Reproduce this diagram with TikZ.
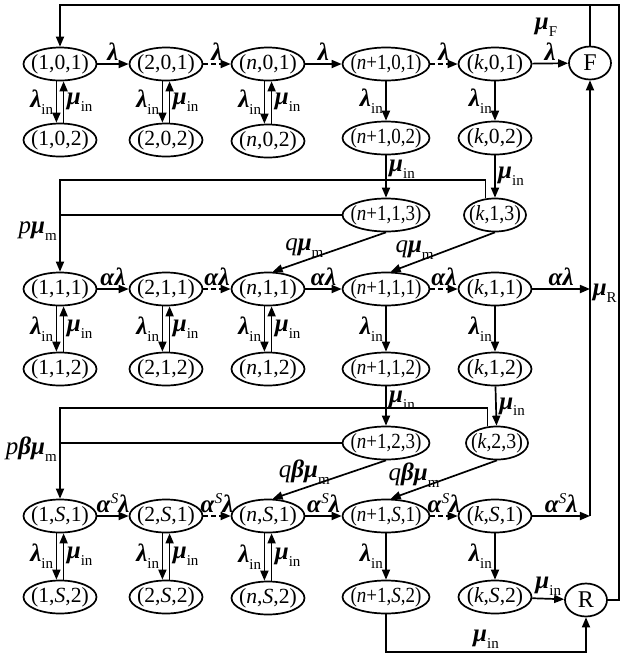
\documentclass[tikz,border=0pt]{standalone}
\usepackage{fontspec}
\setmainfont{Liberation Serif}
\usetikzlibrary{arrows.meta,shapes.geometric}
\newcommand\Lm{\textbf{\textit{λ}}}
\newcommand\Mu{\textbf{\textit{μ}}}
\newcommand\Al{\textbf{\textit{α}}}
\newcommand\Be{\textbf{\textit{β}}}
\newcommand\sbx[1]{\raisebox{-0.6ex}{\fontsize{7.5}{8}\selectfont #1}}
\newcommand\spx[1]{\raisebox{0.8ex}{\fontsize{7.5}{8}\selectfont\textit{#1}}}
\newcommand\Tx[1]{\makebox[0pt]{#1}}
\newcommand\TW[1]{\makebox[0pt]{\scalebox{0.88}[1]{#1}}}
\newcommand\TN[1]{\makebox[0pt]{\scalebox{0.92}[1]{#1}}}
\newcommand\iv[1]{\textit{#1}}
\begin{document}
\begin{tikzpicture}[x=0.5pt,y=-0.5pt,
 st/.style={ellipse,draw,line width=0.85pt,inner sep=0pt,minimum height=16.5pt,minimum width=36.5pt,font=\fontsize{10.8}{13}\selectfont},
 wst/.style={st,minimum width=43.5pt},
 nst/.style={st,minimum width=31pt},
 fst/.style={st,minimum width=21pt,font=\fontsize{12}{14}\selectfont},
 ar/.style={-{Triangle[length=5pt,width=4pt]},line width=0.85pt},
 dar/.style={ar,dash pattern=on 2.5pt off 1.5pt},
 ln/.style={line width=0.85pt},
 lab/.style={font=\fontsize{12.5}{14}\selectfont,inner sep=1.2pt}]
\useasboundingbox (0,0) rectangle (624,661);
% row 0
\node[st]  (a01) at (60,64)  {\Tx{(1,0,1)}};
\node[st]  (b01) at (166,64) {\Tx{(2,0,1)}};
\node[st]  (n01) at (268,64) {\Tx{(\iv{n},0,1)}};
\node[wst] (m01) at (386,64) {\TW{(\iv{n}+1,0,1)}};
\node[st]  (k01) at (495,64) {\Tx{(\iv{k},0,1)}};
\node[fst] (F)   at (590,63) {\Tx{F}};
\node[st]  (a02) at (60,140)  {\Tx{(1,0,2)}};
\node[st]  (b02) at (166,140) {\Tx{(2,0,2)}};
\node[st]  (n02) at (268,141) {\Tx{(\iv{n},0,2)}};
\node[wst] (m02) at (386,138) {\TW{(\iv{n}+1,0,2)}};
\node[st]  (k02) at (495,138) {\Tx{(\iv{k},0,2)}};
% row 1
\node[wst] (m13) at (386,215) {\TW{(\iv{n}+1,1,3)}};
\node[nst] (k13) at (495,215) {\TN{(\iv{k},1,3)}};
\node[st]  (a11) at (60,289)  {\Tx{(1,1,1)}};
\node[st]  (b11) at (166,289) {\Tx{(2,1,1)}};
\node[st]  (n11) at (268,289) {\Tx{(\iv{n},1,1)}};
\node[wst] (m11) at (386,289) {\TW{(\iv{n}+1,1,1)}};
\node[st]  (k11) at (495,289) {\Tx{(\iv{k},1,1)}};
\node[st]  (a12) at (60,369)  {\Tx{(1,1,2)}};
\node[st]  (b12) at (166,369) {\Tx{(2,1,2)}};
\node[st]  (n12) at (268,369) {\Tx{(\iv{n},1,2)}};
\node[wst] (m12) at (386,369) {\TW{(\iv{n}+1,1,2)}};
\node[st]  (k12) at (495,369) {\Tx{(\iv{k},1,2)}};
% row 2 / S
\node[wst] (m23) at (386,443) {\TW{(\iv{n}+1,2,3)}};
\node[nst] (k23) at (497,443) {\TN{(\iv{k},2,3)}};
\node[st]  (aS1) at (60,516)  {\Tx{(1,\iv{S},1)}};
\node[st]  (bS1) at (166,516) {\Tx{(2,\iv{S},1)}};
\node[st]  (nS1) at (268,516) {\Tx{(\iv{n},\iv{S},1)}};
\node[wst] (mS1) at (386,516) {\TW{(\iv{n}+1,\iv{S},1)}};
\node[st]  (kS1) at (495,516) {\Tx{(\iv{k},\iv{S},1)}};
\node[st]  (aS2) at (60,597)  {\Tx{(1,\iv{S},2)}};
\node[st]  (bS2) at (166,597) {\Tx{(2,\iv{S},2)}};
\node[st]  (nS2) at (268,598) {\Tx{(\iv{n},\iv{S},2)}};
\node[wst] (mS2) at (386,597) {\TW{(\iv{n}+1,\iv{S},2)}};
\node[st]  (kS2) at (495,597) {\Tx{(\iv{k},\iv{S},2)}};
\node[fst] (R)   at (586,600) {\Tx{R}};
% horizontal arrows
\draw[ar]  (a01) -- node[lab,above]{\Lm} (b01);
\draw[dar] (b01) -- node[lab,above]{\Lm} (n01);
\draw[ar]  (n01) -- node[lab,above]{\Lm} (m01);
\draw[dar] (m01) -- node[lab,above]{\Lm} (k01);
\draw[ar]  (k01) -- node[lab,above]{\Lm} (F);
\draw[ar]  (a11) -- node[lab,above]{\Al\Lm} (b11);
\draw[dar] (b11) -- node[lab,above]{\Al\Lm} (n11);
\draw[ar]  (n11) -- node[lab,above]{\Al\Lm} (m11);
\draw[dar] (m11) -- node[lab,above]{\Al\Lm} (k11);
\draw[ar]  (k11) -- node[lab,above]{\Al\Lm} (k11 -| F.south);
\draw[ar]  (aS1) -- node[lab,above]{\Al\spx{S}\Lm} (bS1);
\draw[dar] (bS1) -- node[lab,above]{\Al\spx{S}\Lm} (nS1);
\draw[ar]  (nS1) -- node[lab,above]{\Al\spx{S}\Lm} (mS1);
\draw[dar] (mS1) -- node[lab,above]{\Al\spx{S}\Lm} (kS1);
\draw[ar]  (kS1) -- node[lab,above]{\Al\spx{S}\Lm} (kS1 -| F.south);
\draw[ar]  (kS2) -- node[lab,above]{\Mu\sbx{in}} (R);
% vertical pairs
\foreach \u/\d in {a01/a02,b01/b02,n01/n02,a11/a12,b11/b12,n11/n12,aS1/aS2,bS1/bS2,nS1/nS2}{
 \draw[ar] ([xshift=-1.8pt]\u.south) -- node[lab,left]{\Lm\sbx{in}} ([xshift=-1.8pt]\d.north);
 \draw[ar] ([xshift=1.8pt]\d.north) -- node[lab,right]{\Mu\sbx{in}} ([xshift=1.8pt]\u.south);
}
\foreach \u/\d in {m01/m02,k01/k02,m11/m12,k11/k12,mS1/mS2,kS1/kS2}{
 \draw[ar] (\u) -- node[lab,left]{\Lm\sbx{in}} (\d);
}
\draw[ar] (m02) -- node[lab,right,pos=0.33]{\Mu\sbx{in}} (m13);
\draw[ar] (k02) -- node[lab,right,pos=0.5]{\Mu\sbx{in}} (k13);
\draw[ar] (m12) -- node[lab,right,pos=0.36]{\Mu\sbx{in}} (m23);
\draw[ar] (k12) -- node[lab,right,pos=0.52]{\Mu\sbx{in}} (k23);
% p branches level 1
\coordinate (h1) at (60,180);
\draw[ar] (k13.120) |- (h1) -- node[lab,left,pos=0.56]{\iv{p}\Mu\sbx{m}} (a11.north);
\draw[ln] (m13.west) -- (m13.west -| h1);
\draw[ar] (m13.south) -- node[lab,above,pos=0.72]{\iv{q}\Mu\sbx{m}} (n11.75);
\draw[ar] (k13.south) -- node[lab,above,pos=0.77]{\iv{q}\Mu\sbx{m}} (m11.75);
% p branches level 2
\coordinate (h2) at (60,408);
\draw[ar] (k23.120) |- (h2) -- node[lab,left,pos=0.45]{\iv{p}\Be\Mu\sbx{m}} (aS1.north);
\draw[ln] (m23.west) -- (m23.west -| h2);
\draw[ar] (m23.south) -- node[lab,above,pos=0.72]{\iv{q}\Be\Mu\sbx{m}} (nS1.75);
\draw[ar] (k23.south) -- node[lab,above,pos=0.78]{\iv{q}\Be\Mu\sbx{m}} (mS1.75);
% F and R
\draw[ar] (kS1 -| F.south) -- (F.south);
\path (k11 -| F.south) node[lab,anchor=west,yshift=-2pt] (muR) {\Mu\sbx{R}};
\coordinate (bot) at (586,652);
\draw[ar] (mS2.south) |- node[lab,above,pos=0.75]{\Mu\sbx{in}} (bot) -- (R.south);
\coordinate (c1) at (619,5);
\coordinate (c2) at (60,5);
\draw[ar] (R.east) -| (c1) -- (c2) -- (a01.north);
\draw[ln] (F.north) -- (F.north |- c1);
\node[lab] (muF) at (546,27) {\Mu\sbx{F}};
\end{tikzpicture}
\end{document}
